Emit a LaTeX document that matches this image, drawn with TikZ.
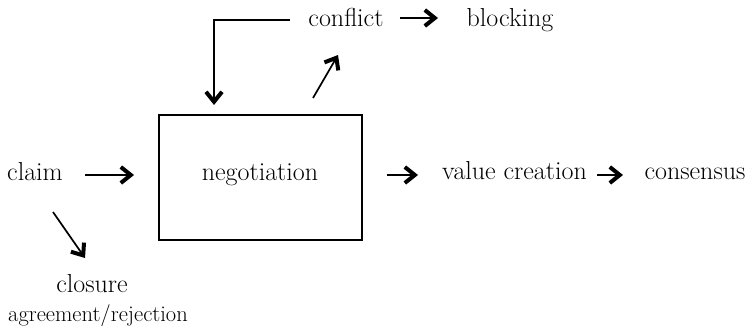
\documentclass[tikz,border=0pt]{standalone}
\usetikzlibrary{arrows.meta}
\begin{document}
\begin{tikzpicture}[x=1pt,y=-1pt,
  lbl/.style={font=\fontsize{26}{29}\selectfont, inner sep=0pt, anchor=base},
  small/.style={font=\fontsize{22.5}{25}\selectfont, inner sep=0pt, anchor=base},
  tipstyle/.style={-{Straight Barb[length=10pt,width=16pt,line width=4pt]}},
  arr/.style={line width=2.3pt, tipstyle},
  thinarr/.style={line width=1.7pt, tipstyle},
  boxed/.style={draw, line width=1.2pt, minimum width=203pt, minimum height=125pt, inner sep=0pt}
]
\useasboundingbox (0,0) rectangle (749,326);
% nodes
\node[boxed] (box) at (260.5,177.5) {};
\node[lbl] (neg) at (260,180) {negotiation};
\node[lbl] (claim) at (35,180) {claim};
\node[lbl] (value) at (514.5,179) {value creation};
\node[lbl] (cons) at (695,179) {consensus};
\node[lbl] (conflict) at (346,27) {conflict};
\node[lbl] (block) at (510,27) {blocking};
\node[lbl] (closure) at (92,292) {closure};
\node[small] (agree) at (98,321) {agreement/rejection};
% connector end points
\coordinate (c1s) at (85,175);  \coordinate (c1e) at (134,175);
\coordinate (c2s) at (387,175); \coordinate (c2e) at (418,175);
\coordinate (c3s) at (597,175); \coordinate (c3e) at (623,175);
\coordinate (c4s) at (400,18);  \coordinate (c4e) at (438,18);
\coordinate (c5s) at (290,20);  \coordinate (c5e) at (214,105);
\coordinate (c6s) at (313,98);  \coordinate (c6e) at (338,55);
\coordinate (c7s) at (53,212);  \coordinate (c7e) at (85,258);
% connectors
\draw[arr] (c1s) -- (c1e);
\draw[arr] (c2s) -- (c2e);
\draw[arr] (c3s) -- (c3e);
\draw[arr] (c4s) -- (c4e);
\draw[arr] (c5s) -| (c5e);
\draw[thinarr] (c6s) -- (c6e);
\draw[thinarr] (c7s) -- (c7e);
\end{tikzpicture}
\end{document}
